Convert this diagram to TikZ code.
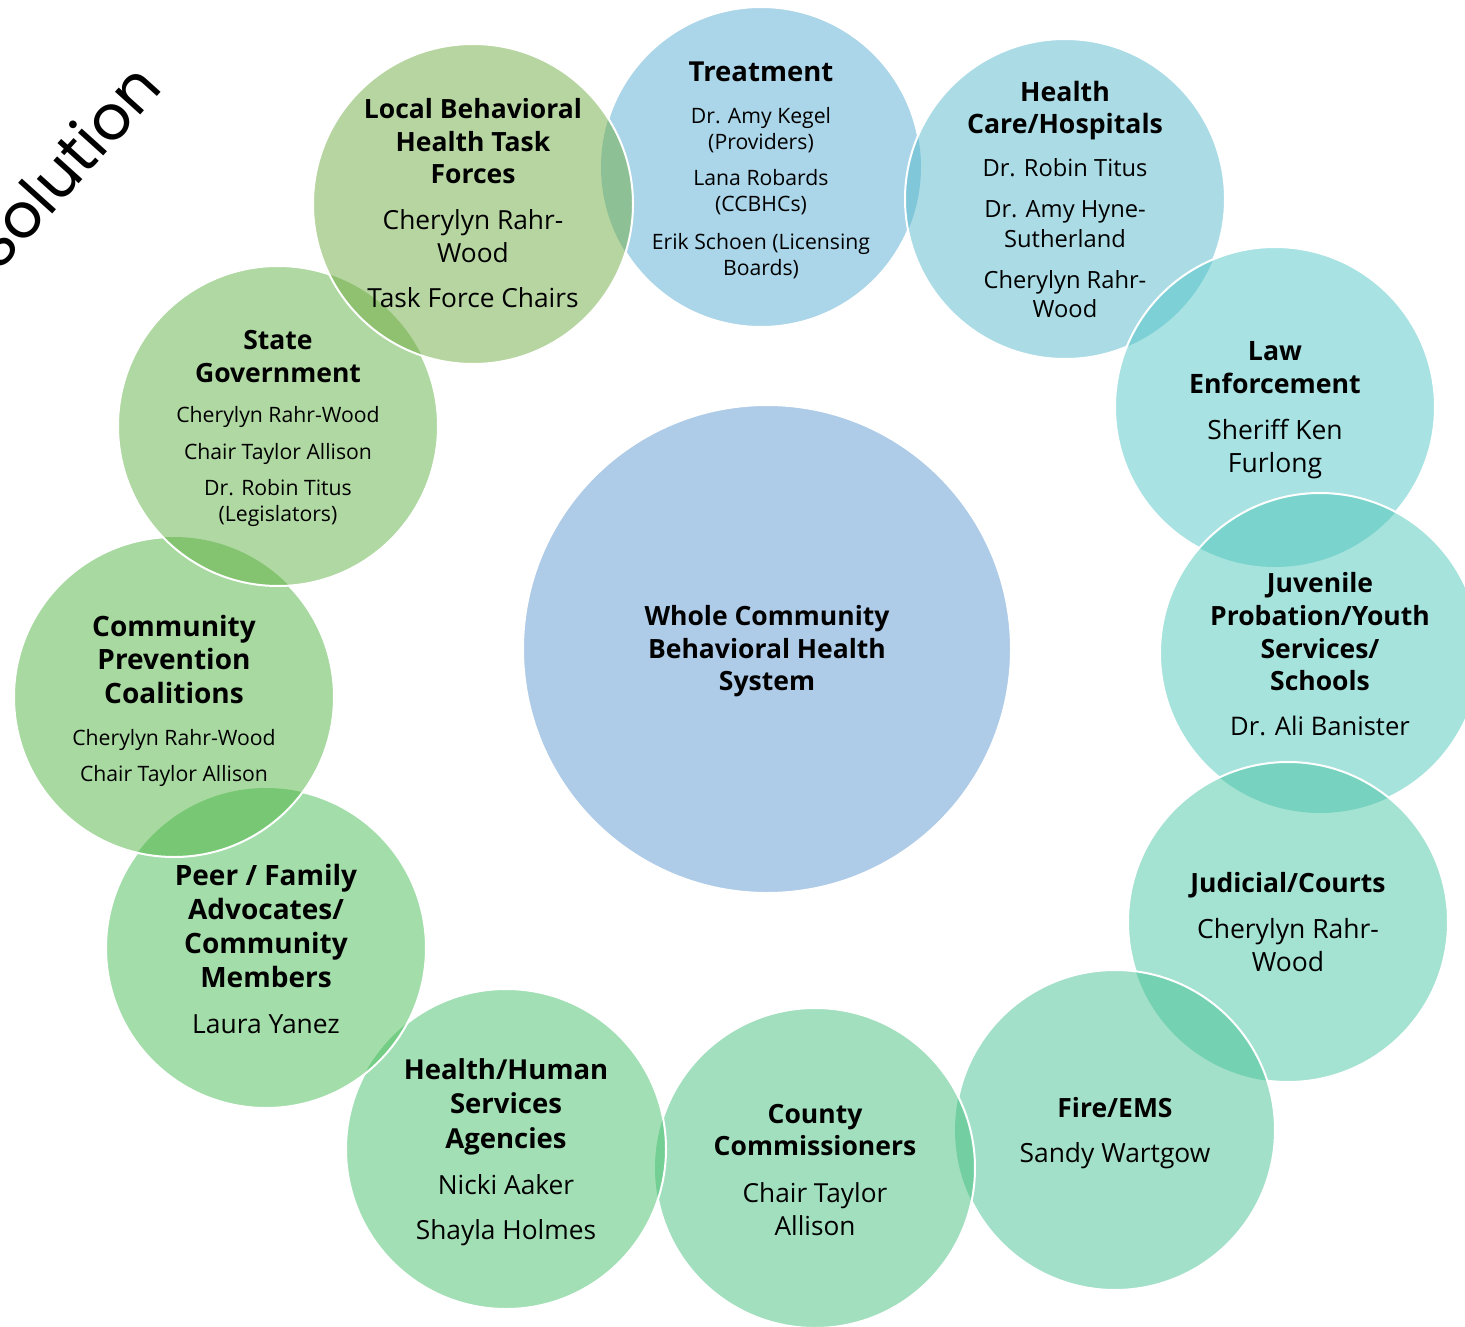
\documentclass[tikz,border=0pt]{standalone}
\usepackage{fontspec}
\setmainfont{Open Sans}
\newfontfamily\solfont{Poppins}
\newcommand\fsz[2]{\fontsize{#1pt}{#2pt}\selectfont}
\definecolor{cT}{RGB}{87,171,209}
\definecolor{cHC}{RGB}{87,185,205}
\definecolor{cLaw}{RGB}{81,197,199}
\definecolor{cJuv}{RGB}{77,199,185}
\definecolor{cJud}{RGB}{73,197,165}
\definecolor{cFire}{RGB}{71,193,147}
\definecolor{cCty}{RGB}{69,191,125}
\definecolor{cHHS}{RGB}{69,191,107}
\definecolor{cPeer}{RGB}{71,187,83}
\definecolor{cComm}{RGB}{79,179,65}
\definecolor{cState}{RGB}{97,177,69}
\definecolor{cLocal}{RGB}{111,171,67}
\definecolor{cWhole}{RGB}{174,203,232}
\tikzset{
  bub/.style={circle, minimum size=320pt, inner sep=0pt, draw=none, fill opacity=0.5},
  ring/.style={white, line width=2pt},
  txt/.style={inner sep=0pt, align=center, anchor=north, text=black},
}
\begin{document}
\begin{tikzpicture}[x=1pt,y=-1pt]
\useasboundingbox (0,0) rectangle (1465,1327);
% title text
\node[rotate=48, anchor=base west, inner sep=0pt, font=\solfont\fsz{62}{62}] (sol) at (-2,274) {Solution};
% central circle
\node[circle, minimum size=488pt, inner sep=0pt, fill=cWhole, draw=white, line width=2pt] (whole) at (767,649) {};
% bubble fills, bottom to top
\node[bub, fill=cT] (treat) at (761,167) {};
\node[bub, fill=cHC] (hc) at (1065,199) {};
\node[bub, fill=cLaw] (law) at (1275,407) {};
\node[bub, fill=cJuv] (juv) at (1320,653) {};
\node[bub, fill=cJud] (jud) at (1288,922) {};
\node[bub, fill=cFire] (fire) at (1115,1130) {};
\node[bub, fill=cCty] (cty) at (815,1168) {};
\node[bub, fill=cHHS] (hhs) at (506,1149) {};
\node[bub, fill=cPeer] (peer) at (266,948) {};
\node[bub, fill=cComm] (comm) at (174,697) {};
\node[bub, fill=cState] (state) at (278,426) {};
\node[bub, fill=cLocal] (local) at (473,204) {};
% white rims, each hidden under the bubble lying on top of it
\begin{scope}[even odd rule]
\clip (-50,-50) rectangle (1550,1400) (hc.center) circle[radius=160pt] (local.center) circle[radius=160pt];
\draw[ring] (treat.center) circle[radius=160pt];
\end{scope}
\foreach \a/\b in {hc/law, law/juv, juv/jud, jud/fire, fire/cty, cty/hhs, hhs/peer, peer/comm, comm/state, state/local}{
\begin{scope}[even odd rule]
\clip (-50,-50) rectangle (1550,1400) (\b.center) circle[radius=160pt];
\draw[ring] (\a.center) circle[radius=160pt];
\end{scope}
}
\draw[ring] (local.center) circle[radius=160pt];
% texts
\node[txt, font=\bfseries\fsz{26.5}{32.5}] (wholeT) at (767,605.4) {Whole Community\\Behavioral Health\\System};

\node[txt, font=\bfseries\fsz{27.5}{33}] (treatT) at (761,61.5) {Treatment};
\node[txt, font=\fsz{21.2}{26}] (treatB) at (761,107) {Dr. Amy Kegel\\(Providers)\\[10pt]Lana Robards\\(CCBHCs)\\[12pt]Erik Schoen (Licensing\\Boards)};

\node[txt, font=\bfseries\fsz{26.7}{32}] (hcT) at (1065,81.3) {Health\\Care/Hospitals};
\node[txt, font=\fsz{23.7}{29.5}] (hcB) at (1065,158.5) {Dr. Robin Titus\\[11.5pt]Dr. Amy Hyne-\\Sutherland\\[11.5pt]Cherylyn Rahr-\\Wood};

\node[txt, font=\bfseries\fsz{26.7}{33}] (lawT) at (1275,341.3) {Law\\Enforcement};
\node[txt, font=\fsz{26.5}{33}] (lawB) at (1275,419.4) {Sheriff Ken\\Furlong};

\node[txt, font=\bfseries\fsz{26.5}{32.7}] (juvT) at (1320,572.4) {Juvenile\\Probation/Youth\\Services/\\Schools};
\node[txt, font=\fsz{25.6}{33}] (juvB) at (1320,715.8) {Dr. Ali Banister};

\node[txt, font=\bfseries\fsz{26.5}{33}] (judT) at (1288,872.4) {Judicial/Courts};
\node[txt, font=\fsz{26.5}{33}] (judB) at (1288,918.4) {Cherylyn Rahr-\\Wood};

\node[txt, font=\bfseries\fsz{26.5}{33}] (fireT) at (1115,1097.4) {Fire/EMS};
\node[txt, font=\fsz{26.4}{33}] (fireB) at (1115,1142.4) {Sandy Wartgow};

\node[txt, font=\bfseries\fsz{26.5}{32}] (ctyT) at (815,1104.4) {County\\Commissioners};
\node[txt, font=\fsz{26.2}{33}] (ctyB) at (815,1182.5) {Chair Taylor\\Allison};

\node[txt, font=\bfseries\fsz{27.5}{34.5}] (hhsT) at (506,1058) {Health/Human\\Services\\Agencies};
\node[txt, font=\fsz{26.3}{33}] (hhsB) at (506,1174.5) {Nicki Aaker\\[12pt]Shayla Holmes};

\node[txt, font=\bfseries\fsz{28}{34}] (peerT) at (266,863.8) {Peer / Family\\Advocates/\\Community\\Members};
\node[txt, font=\fsz{26.4}{33}] (peerB) at (266,1014) {Laura Yanez};

\node[txt, font=\bfseries\fsz{28}{33.5}] (commT) at (174,614.8) {Community\\Prevention\\Coalitions};
\node[txt, font=\fsz{21.2}{26}] (commB) at (174,729) {Cherylyn Rahr-Wood\\[10pt]Chair Taylor Allison};

\node[txt, font=\bfseries\fsz{26.5}{33}] (stateT) at (278,330) {State\\Government};
\node[txt, font=\fsz{21.2}{26}] (stateB) at (278,406) {Cherylyn Rahr-Wood\\[11pt]Chair Taylor Allison\\[10pt]Dr. Robin Titus\\(Legislators)};

\node[txt, font=\bfseries\fsz{26.5}{32.5}] (localT) at (473,98.5) {Local Behavioral\\Health Task\\Forces};
\node[txt, font=\fsz{26.3}{33}] (localB) at (473,209) {Cherylyn Rahr-\\Wood\\[12pt]Task Force Chairs};
\end{tikzpicture}
\end{document}
